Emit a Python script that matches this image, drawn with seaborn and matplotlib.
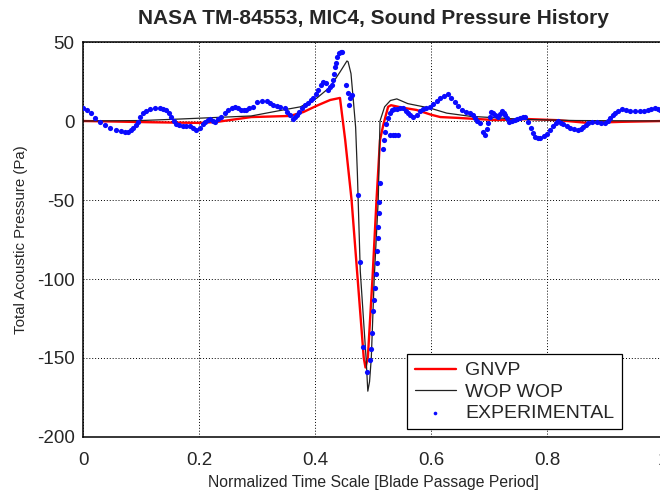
import numpy as np
import pandas as pd
import matplotlib
matplotlib.use("Agg")
import matplotlib.pyplot as plt
import seaborn as sns

# GNVP prediction (normalized time, pressure in Pa)
gnvp_t = [0.000, 0.050, 0.120, 0.200, 0.230, 0.290, 0.357, 0.380, 0.405, 0.426,
          0.443, 0.452, 0.463, 0.4735, 0.484, 0.487, 0.491, 0.499, 0.506, 0.512,
          0.518, 0.526, 0.531, 0.550, 0.575, 0.600, 0.616, 0.645, 0.710, 0.770,
          0.820, 0.870, 0.930, 1.000]
gnvp_p = [0.0, -0.3, -0.8, -1.2, -0.6, 2.5, 3.2, 5.7, 10.0, 13.3,
          14.6, -12.0, -50.0, -100.0, -150.0, -156.0, -150.0, -100.0, -50.0, -12.0,
          -2.0, 9.0, 10.0, 8.5, 7.0, 4.0, 2.5, 2.0, 0.6, 1.2,
          0.5, -1.2, -0.5, 0.0]

# WOPWOP prediction
wop_t = [0.000, 0.100, 0.170, 0.290, 0.345, 0.375, 0.403, 0.426, 0.443, 0.455,
         0.457, 0.462, 0.467, 0.470, 0.473, 0.478, 0.488, 0.491, 0.494, 0.497,
         0.502, 0.509, 0.512, 0.520, 0.530, 0.541, 0.560, 0.598, 0.627, 0.667,
         0.713, 0.760, 0.850, 1.000]
wop_p = [0.0, 0.3, 1.3, 3.2, 7.0, 9.0, 14.5, 21.5, 31.0, 38.0,
         37.5, 30.0, 9.0, -4.0, -33.0, -95.0, -150.0, -171.0, -165.0, -150.0,
         -100.0, -50.0, 0.0, 9.0, 13.0, 14.0, 11.0, 8.2, 5.0, 3.0,
         2.0, 1.0, 0.3, 0.0]

# Measured microphone samples
exp_t = [0.000, 0.007, 0.014, 0.021, 0.029, 0.038, 0.047, 0.056, 0.066, 0.072,
         0.078, 0.082, 0.086, 0.091, 0.095, 0.099, 0.103, 0.109, 0.116, 0.124,
         0.133, 0.138, 0.143, 0.148, 0.152, 0.156, 0.160, 0.166, 0.172, 0.178,
         0.184, 0.190, 0.195, 0.202, 0.206, 0.210, 0.215, 0.219, 0.224, 0.228,
         0.233, 0.238, 0.244, 0.250, 0.256, 0.262, 0.267, 0.272, 0.277, 0.281,
         0.287, 0.293, 0.300, 0.308, 0.317, 0.322, 0.328, 0.334, 0.340, 0.348,
         0.352, 0.357, 0.362, 0.366, 0.369, 0.373, 0.378, 0.383, 0.388, 0.393,
         0.397, 0.401, 0.405, 0.410, 0.414, 0.419, 0.422, 0.426, 0.429, 0.431,
         0.432, 0.434, 0.436, 0.438, 0.441, 0.444, 0.447, 0.453, 0.457, 0.458,
         0.460, 0.464, 0.474, 0.478, 0.483, 0.490, 0.495, 0.497, 0.498, 0.500,
         0.502, 0.503, 0.505, 0.507, 0.5075, 0.508, 0.509, 0.5095, 0.510, 0.512,
         0.517, 0.519, 0.521, 0.523, 0.526, 0.529, 0.530, 0.533, 0.534, 0.537,
         0.538, 0.541, 0.543, 0.546, 0.552, 0.556, 0.560, 0.564, 0.569, 0.575,
         0.581, 0.586, 0.592, 0.598, 0.604, 0.610, 0.616, 0.622, 0.629, 0.635,
         0.641, 0.647, 0.653, 0.660, 0.667, 0.672, 0.676, 0.680, 0.684, 0.690,
         0.693, 0.696, 0.698, 0.701, 0.703, 0.707, 0.710, 0.713, 0.716, 0.719,
         0.722, 0.725, 0.728, 0.731, 0.734, 0.740, 0.745, 0.749, 0.753, 0.758,
         0.762, 0.767, 0.772, 0.776, 0.779, 0.784, 0.788, 0.794, 0.800, 0.805,
         0.810, 0.815, 0.819, 0.824, 0.828, 0.834, 0.840, 0.847, 0.853, 0.858,
         0.862, 0.867, 0.871, 0.878, 0.886, 0.893, 0.900, 0.905, 0.909, 0.913,
         0.917, 0.923, 0.929, 0.936, 0.943, 0.951, 0.960, 0.967, 0.974, 0.980,
         0.986, 0.991, 0.995, 1.000]
exp_p = [8.2, 7.0, 5.0, 2.2, -0.6, -2.8, -4.4, -5.5, -6.3, -6.9,
         -7.0, -6.0, -4.4, -2.5, -0.6, 2.4, 5.0, 6.6, 7.6, 8.2,
         8.2, 7.8, 7.0, 5.0, 2.5, 0.2, -1.9, -2.8, -3.2, -3.0,
         -3.2, -4.3, -5.7, -4.4, -2.2, -0.6, 0.8, 1.3, 0.2, -0.6,
         1.0, 2.5, 5.0, 7.0, 8.2, 8.9, 8.0, 7.0, 6.8, 7.0,
         8.0, 8.9, 12.0, 12.5, 12.6, 11.5, 10.0, 9.3, 9.0, 8.2,
         6.0, 3.8, 1.3, 2.5, 3.8, 6.0, 8.2, 10.0, 11.4, 13.0,
         14.5, 17.0, 19.6, 22.5, 24.7, 24.0, 19.6, 21.5, 23.0, 26.0,
         30.0, 34.0, 37.0, 40.5, 43.0, 43.5, 43.7, 22.8, 17.7, 10.0,
         14.5, 16.5, -46.8, -89.0, -143.0, -159.0, -151.0, -144.0, -134.0, -120.0,
         -113.0, -106.0, -97.0, -90.0, -82.0, -74.0, -67.0, -58.0, -51.0, -39.0,
         -18.0, -12.0, -7.0, -2.0, 2.0, -9.0, 5.0, 7.0, -9.0, 7.4,
         -9.0, 7.6, -9.0, 8.0, 8.2, 6.5, 5.0, 3.5, 2.5, 4.0,
         6.5, 7.5, 8.3, 8.9, 10.5, 12.5, 14.5, 16.0, 17.0, 14.5,
         12.0, 9.5, 7.0, 6.0, 5.0, 3.5, 1.9, 0.3, -1.3, -7.0,
         -8.9, -5.0, -1.3, 2.5, 5.7, 4.8, 3.8, 3.0, 2.5, 4.5,
         6.3, 5.0, 3.8, 1.6, -0.6, 0.0, 0.6, 1.3, 1.9, 2.3,
         2.5, -0.6, -4.4, -7.5, -10.0, -10.8, -10.8, -9.6, -8.2, -5.8,
         -3.2, -1.5, 0.0, -1.0, -1.9, -3.2, -4.4, -5.2, -5.7, -4.8,
         -3.8, -2.5, -1.3, -0.8, -0.6, -1.0, -1.3, 0.3, 1.9, 3.5,
         5.0, 6.4, 7.6, 6.8, 6.3, 6.3, 6.3, 6.6, 7.0, 7.6,
         8.2, 7.6, 7.0, 6.8]

x_ticks = [0, 0.2, 0.4, 0.6, 0.8, 1]
x_tick_labels = ["0", "0.2", "0.4", "0.6", "0.8", "1"]
y_ticks = [-200, -150, -100, -50, 0, 50]

sns.set_style("white")
plt.rcParams["font.family"] = ["Liberation Sans", "DejaVu Sans"]
plt.rcParams["axes.unicode_minus"] = False

gnvp = pd.DataFrame({"t": gnvp_t, "p": gnvp_p})
wop = pd.DataFrame({"t": wop_t, "p": wop_p})
exp = pd.DataFrame({"t": exp_t, "p": exp_p})

fig = plt.figure(figsize=(6.6, 4.92), dpi=100)
ax = fig.add_axes([0.1258, 0.1118, 0.8788, 0.8028])

sns.lineplot(data=gnvp, x="t", y="p", ax=ax, color="#ff0000", lw=1.7,
             sort=False, estimator=None, label="GNVP")
sns.lineplot(data=wop, x="t", y="p", ax=ax, color="#222222", lw=0.9,
             sort=False, estimator=None, label="WOP WOP")
sns.scatterplot(data=exp, x="t", y="p", ax=ax, color="#0a0aff", s=14,
                marker="o", linewidth=0, label="EXPERIMENTAL", zorder=3)

ax.set_xlim(0, 1)
ax.set_ylim(-200, 50)
ax.set_xticks(x_ticks)
ax.set_xticklabels(x_tick_labels)
ax.set_yticks(y_ticks)
ax.tick_params(axis="both", labelsize=13.5, direction="in", length=4,
               color="black")
ax.tick_params(axis="x", pad=11)
ax.tick_params(axis="y", pad=6)
ax.grid(True, color="black", linestyle=(0, (1, 2)), linewidth=0.7)
for side in ["left", "bottom", "top", "right"]:
    ax.spines[side].set_color("black")
    ax.spines[side].set_linewidth(1.1)

ax.set_xlabel("Normalized Time Scale [Blade Passage Period]", fontsize=11.3,
              labelpad=4)
ax.set_ylabel("Total Acoustic Pressure (Pa)", fontsize=10.8, labelpad=6)
ax.set_title("NASA TM-84553, MIC4, Sound Pressure History", fontsize=15,
             fontweight="bold", pad=13)

leg = ax.legend(loc="upper left", bbox_to_anchor=(0.5586, 0.210), fontsize=14,
                frameon=True, fancybox=False, edgecolor="black", framealpha=1,
                handlelength=2.1, borderpad=0.4, labelspacing=0.18,
                handletextpad=0.5, borderaxespad=0, markerscale=0.7)
leg.get_frame().set_linewidth(0.9)

fig.savefig("out.png", dpi=100)
